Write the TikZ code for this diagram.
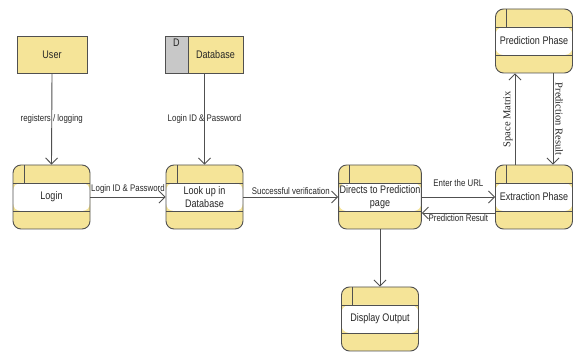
\documentclass[tikz,border=0pt]{standalone}
\usepackage{fontspec}
\setmainfont{Liberation Serif}
\newfontfamily\narrowsans[FakeStretch=0.82]{Liberation Sans}
\usetikzlibrary{arrows.meta}
\definecolor{boxyellow}{RGB}{245,228,152}
\definecolor{tabgray}{RGB}{200,200,200}
\definecolor{linegray}{RGB}{80,80,80}
\tikzset{
  flow/.style={draw=linegray, line width=0.9pt, -{Straight Barb[length=6pt,width=12pt]}},
  edgelabel/.style={font=\narrowsans\fontsize{9.6}{10}\selectfont, text=black!85, inner sep=1pt},
  sidelabel/.style={font=\fontsize{10.5}{12}\selectfont, text=black!85, inner sep=2pt},
  entity/.style={draw=linegray, line width=0.9pt, fill=boxyellow, minimum height=37pt,
    inner sep=0pt, font=\narrowsans\fontsize{11}{13}\selectfont, text=black!85},
  process/.style={draw=linegray, line width=0.9pt, fill=boxyellow, rounded corners=8pt,
    minimum width=77pt, minimum height=64pt, inner sep=1pt, align=center,
    font=\narrowsans\fontsize{11}{13}\selectfont, text=black!85,
    path picture={
      \fill[white] ([yshift=-18pt]path picture bounding box.north west)
        rectangle ([yshift=18pt]path picture bounding box.south east);
      \draw[linegray, line width=0.9pt]
        ([yshift=-18pt]path picture bounding box.north west) -- ([yshift=-18pt]path picture bounding box.north east)
        ([yshift=18pt]path picture bounding box.south west) -- ([yshift=18pt]path picture bounding box.south east)
        ([xshift=11pt]path picture bounding box.north west) -- ([xshift=11pt,yshift=-18pt]path picture bounding box.north west);
    }},
}
\begin{document}
\begin{tikzpicture}[x=1pt, y=-1pt]
  \useasboundingbox (0,0) rectangle (573,352);
  % Draw the external entity and the data store
  \node[entity, minimum width=70pt] (user) at (52,54.5) {User};
  \node[entity, fill=tabgray, minimum width=23pt] (dbtab) at (176.5,54.5) {};
  \node[entity, minimum width=55pt] (db) at (215.5,54.5) {Database};
  \node[font=\narrowsans\fontsize{11}{13}\selectfont, text=black!85, below=0pt] (dtag) at (dbtab.north) {D};
  % Draw the processes
  \node[process] (login) at (51.5,197) {Login};
  \node[process] (lookup) at (204.5,197) {Look up in\\Database};
  \node[process] (directs) at (380,197) {Directs to Prediction\\page};
  \node[process] (extract) at (534,197) {Extraction Phase};
  \node[process] (predict) at (534,41) {Prediction Phase};
  \node[process] (display) at (380,319) {Display Output};
  % Draw the data flows
  \draw[flow] (user.south) -- (login.north) node[edgelabel, midway] {registers / logging};
  \draw[flow] (lookup.north |- db.south) -- (lookup.north) node[edgelabel, midway] {Login ID \& Password};
  \draw[flow] (login.east) -- (lookup.west) node[edgelabel, midway, above=2pt] {Login ID \& Password};
  \draw[flow] (lookup.east) -- (directs.west) node[edgelabel, midway, above=1pt] {Successful verification};
  \draw[flow] (directs.east) -- (extract.west) node[edgelabel, midway, above=9pt] {Enter the URL};
  \draw[flow] ([yshift=-16pt]extract.west) -- ([yshift=-16pt]directs.east)
    node[edgelabel, midway, below=0pt] {Prediction Result};
  \draw[flow] ([xshift=-19pt]extract.north) -- ([xshift=-19pt]predict.south)
    node[sidelabel, midway, rotate=90, anchor=south] {Space Matrix};
  \draw[flow] ([xshift=19pt]predict.south) -- ([xshift=19pt]extract.north)
    node[sidelabel, midway, rotate=-90, anchor=south] {Prediction Result};
  \draw[flow] (directs.south) -- (display.north);
\end{tikzpicture}
\end{document}
